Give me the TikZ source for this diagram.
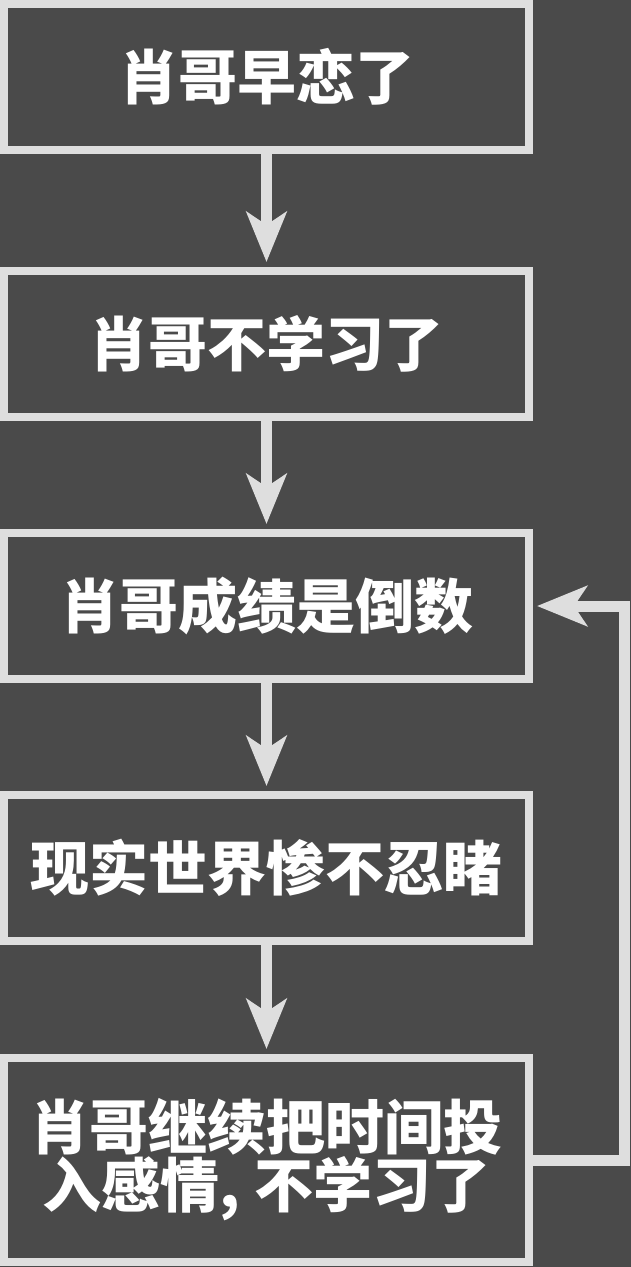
\documentclass[tikz,border=0pt]{standalone}
\usepackage{fontspec}
\newfontfamily\cjk{Noto Sans CJK SC}
\usetikzlibrary{arrows.meta}
\definecolor{bgc}{HTML}{4A4A4A}
\definecolor{linec}{HTML}{DEDEDE}
\tikzset{
  flowbox/.style={draw=linec, line width=8pt, fill=bgc, minimum width=525pt, inner sep=0pt, text=white, align=center,
    font=\cjk\bfseries\fontsize{59}{58}\selectfont},
  flowarrow/.style={draw=linec, line width=11pt, line join=miter,
    -{Stealth[length=50pt,width=40pt,inset=13pt]}}
}
\begin{document}
\begin{tikzpicture}[x=1pt,y=-1pt]
\fill[bgc] (0,0) rectangle (631,1267);
\useasboundingbox (0,0) rectangle (631,1267);
\node[flowbox, minimum height=146pt] (b1) at (266.5,77) {肖哥早恋了};
\node[flowbox, minimum height=146pt] (b2) at (266.5,344) {肖哥不学习了};
\node[flowbox, minimum height=146pt] (b3) at (266.5,606) {肖哥成绩是倒数};
\node[flowbox, minimum height=146pt] (b4) at (266.5,868) {现实世界惨不忍睹};
\node[flowbox, minimum height=204pt] (b5) at (266.5,1160) {肖哥继续把时间投\\入感情, 不学习了};
\coordinate (c1) at (624.5,1160);
\coordinate (c2) at (624.5,606);
\draw[flowarrow, shorten >=5pt] (b1.south) -- (b2.north);
\draw[flowarrow, shorten >=5pt] (b2.south) -- (b3.north);
\draw[flowarrow, shorten >=5pt] (b3.south) -- (b4.north);
\draw[flowarrow, shorten >=5pt] (b4.south) -- (b5.north);
\draw[flowarrow, shorten >=4pt] (b5.east) -- (c1) -- (c2) -- (b3.east);
\end{tikzpicture}
\end{document}
